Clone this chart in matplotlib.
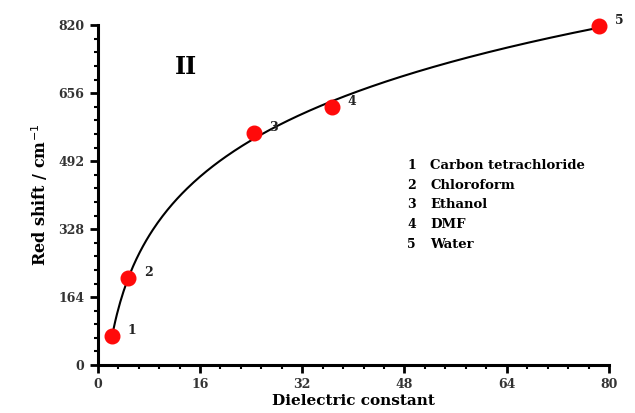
import numpy as np
import matplotlib
matplotlib.use('Agg')
import matplotlib.pyplot as plt
from matplotlib.ticker import MultipleLocator

# solvent data: dielectric constant vs red shift
labels = ['1', '2', '3', '4', '5']
solvents = ['Carbon tetrachloride', 'Chloroform', 'Ethanol', 'DMF', 'Water']
dielectric = np.array([2.24, 4.8, 24.5, 36.7, 78.5])
red_shift = np.array([70, 210, 559, 622, 818])

x_ticks = [0, 16, 32, 48, 64, 80]
y_ticks = [0, 164, 328, 492, 656, 820]

plt.rcParams['font.family'] = ['DejaVu Serif']

fig = plt.figure(figsize=(6.35, 4.13), dpi=100)
ax = fig.add_axes([0.154, 0.116, 0.805, 0.823])

# smooth trend line: quadratic fit in ln(eps)
coef = np.polyfit(np.log(dielectric), red_shift, 2)
xs = np.linspace(dielectric.min(), dielectric.max(), 300)
ax.plot(xs, np.polyval(coef, np.log(xs)), color='black', lw=1.5, zorder=2)

ax.plot(dielectric, red_shift, 'o', color='#ff0a0a', markersize=10.5,
        markeredgecolor='#ff0a0a', zorder=3, clip_on=False)

for lab, xv, yv in zip(labels, dielectric, red_shift):
    ax.annotate(lab, (xv, yv), xytext=(11, 4), textcoords='offset points',
                fontsize=9, fontweight='bold', color='#222222', va='center')

ax.set_xlim(0, 80)
ax.set_ylim(0, 820)
ax.set_xticks(x_ticks)
ax.set_yticks(y_ticks)
ax.xaxis.set_minor_locator(MultipleLocator(3.2))
ax.yaxis.set_minor_locator(MultipleLocator(32.8))
ax.tick_params(which='major', direction='out', length=6, width=2, labelsize=9)
ax.tick_params(which='minor', direction='out', length=3, width=1.5)
for lbl in ax.get_xticklabels() + ax.get_yticklabels():
    lbl.set_fontweight('bold')
    lbl.set_color('#333333')

for side in ['top', 'right']:
    ax.spines[side].set_visible(False)
for side in ['left', 'bottom']:
    ax.spines[side].set_linewidth(2.2)

ax.set_xlabel('Dielectric constant', fontsize=11, fontweight='bold', labelpad=2)
ax.set_ylabel('Red shift / cm$^{-1}$', fontsize=11.5, fontweight='bold', labelpad=6)

ax.text(13.8, 720, 'II', fontsize=17, fontweight='bold', ha='center', va='center')

for i, (lab, name) in enumerate(zip(labels, solvents)):
    y = 0.588 - i * 0.0585
    ax.text(0.605, y, lab, transform=ax.transAxes, fontsize=9, fontweight='bold', va='center')
    ax.text(0.65, y, name, transform=ax.transAxes, fontsize=9.5, fontweight='bold',
            va='center', clip_on=False)

fig.savefig('out.png', dpi=100)
